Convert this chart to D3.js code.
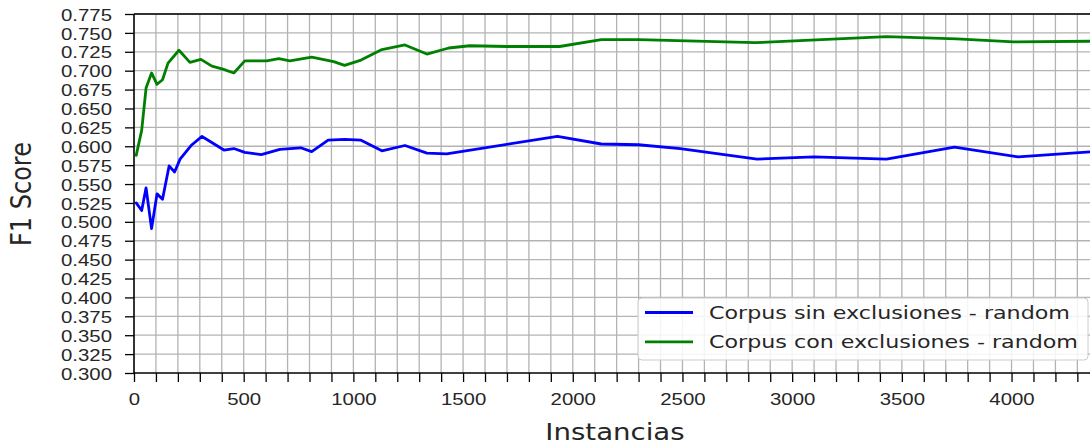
<!DOCTYPE html>
<html>
<head>
<meta charset="utf-8">
<script src="https://cdn.jsdelivr.net/npm/d3@7"></script>
<style>
  html, body { margin: 0; padding: 0; background: #fff; }
  svg { display: block; font-family: "DejaVu Sans", sans-serif; }
</style>
</head>
<body>
<svg id="chart" width="1090" height="444"></svg>
<script>
// F1 score versus number of training instances, two corpus variants
const seriesNames = ["Corpus sin exclusiones - random", "Corpus con exclusiones - random"];
const seriesColors = ["#0000ff", "#008000"];

const sinX = [10, 35, 55, 80, 105, 130, 160, 185, 210, 260, 310, 410, 455, 505, 580, 665, 760, 810, 885, 960,
              1035, 1130, 1235, 1335, 1425, 1930, 2130, 2300, 2490, 2840, 3100, 3430, 3740, 4030, 4380];
const sinY = [0.525, 0.515, 0.545, 0.491, 0.537, 0.530, 0.574, 0.566, 0.583, 0.601, 0.613, 0.595, 0.597, 0.592, 0.589, 0.596, 0.598, 0.593, 0.608, 0.609,
              0.608, 0.594, 0.601, 0.591, 0.590, 0.613, 0.603, 0.602, 0.597, 0.583, 0.586, 0.583, 0.599, 0.586, 0.593];

const conX = [10, 35, 55, 80, 105, 130, 155, 205, 255, 305, 355, 405, 455, 505, 605, 660, 710, 810, 910, 960,
              1035, 1130, 1235, 1335, 1435, 1530, 1700, 1940, 2130, 2300, 2830, 3430, 3750, 4010, 4380];
const conY = [0.588, 0.621, 0.677, 0.697, 0.682, 0.688, 0.710, 0.727, 0.711, 0.715, 0.706, 0.702, 0.697, 0.713, 0.713, 0.716, 0.713, 0.718, 0.712, 0.707,
              0.714, 0.728, 0.734, 0.722, 0.730, 0.733, 0.732, 0.732, 0.741, 0.741, 0.737, 0.745, 0.742, 0.738, 0.739];

const xTickLabels = [0, 500, 1000, 1500, 2000, 2500, 3000, 3500, 4000];
const yTicks = d3.range(0, 20).map(i => +(0.300 + i * 0.025).toFixed(3));

const xLabel = "Instancias";
const yLabel = "F1 Score";

// layout
const plotL = 134, plotT = 14, plotR = 1096, plotB = 373;
const stretch = 1.2;           // horizontal glyph stretch of all text
const ink = "#262626";

const svg = d3.select("#chart");

const x = d3.scaleLinear().domain([0, 4385]).range([plotL, plotR]);
const y = d3.scaleLinear().domain([0.300, 0.775]).range([plotB, plotT]);

svg.append("defs").append("clipPath").attr("id", "plotClip")
  .append("rect").attr("x", plotL).attr("y", plotT).attr("width", plotR - plotL).attr("height", plotB - plotT);

// grid
const xMinor = d3.range(0, 4400, 100);
const grid = svg.append("g").attr("stroke", "#b3b3b3").attr("stroke-width", 1.3);
grid.selectAll("line.v").data(xMinor.filter(d => d > 0)).join("line").attr("class", "v")
  .attr("x1", d => x(d)).attr("x2", d => x(d)).attr("y1", plotT).attr("y2", plotB);
grid.selectAll("line.h").data(yTicks.filter(d => d > 0.3)).join("line").attr("class", "h")
  .attr("x1", plotL).attr("x2", plotR).attr("y1", d => y(d)).attr("y2", d => y(d));

// series lines
const line = d3.line().x(d => x(d[0])).y(d => y(d[1]));
const series = [d3.zip(sinX, sinY), d3.zip(conX, conY)];
const plot = svg.append("g").attr("clip-path", "url(#plotClip)");
series.forEach((pts, i) => {
  plot.append("path").datum(pts)
    .attr("d", line).attr("fill", "none")
    .attr("stroke", seriesColors[i]).attr("stroke-width", 2.8)
    .attr("stroke-linejoin", "round").attr("stroke-linecap", "round");
});

// axes
const xAxis = d3.axisBottom(x).tickValues(xMinor).tickSize(9)
  .tickFormat(d => xTickLabels.includes(d) ? String(d) : "");
const gx = svg.append("g").attr("transform", `translate(0,${plotB})`).call(xAxis);
gx.select(".domain").remove();
gx.selectAll(".tick line").attr("stroke", "#000").attr("stroke-width", 1.3);
gx.selectAll(".tick text")
  .attr("y", 32).attr("dy", 0)
  .attr("fill", ink).style("font-size", "17px")
  .attr("transform", `scale(${stretch},1)`);

const yAxis = d3.axisLeft(y).tickValues(yTicks).tickSize(9).tickFormat(d3.format(".3f"));
const gy = svg.append("g").attr("transform", `translate(${plotL},0)`).call(yAxis);
gy.select(".domain").remove();
gy.selectAll(".tick line").attr("stroke", "#000").attr("stroke-width", 1.3);
gy.selectAll(".tick text")
  .attr("x", -22 / stretch).attr("dy", "0.36em")
  .attr("fill", ink).style("font-size", "17px")
  .attr("transform", `scale(${stretch},1)`);

// spines
const spines = svg.append("g").attr("stroke", "#000").attr("stroke-width", 1.6);
spines.append("line").attr("x1", plotL).attr("x2", plotL).attr("y1", plotT).attr("y2", plotB);
spines.append("line").attr("x1", plotL).attr("x2", plotR).attr("y1", plotB).attr("y2", plotB);
spines.append("line").attr("x1", plotL).attr("x2", plotR).attr("y1", plotT).attr("y2", plotT);
spines.append("line").attr("x1", plotR).attr("x2", plotR).attr("y1", plotT).attr("y2", plotB);

// axis titles
svg.append("text")
  .attr("transform", `translate(615,440) scale(${stretch},1)`)
  .attr("text-anchor", "middle").attr("fill", ink).style("font-size", "23px")
  .text(xLabel);
svg.append("text")
  .attr("transform", `translate(31,194) scale(${stretch},1) rotate(-90)`)
  .attr("text-anchor", "middle").attr("fill", ink).style("font-size", "24px")
  .text(yLabel);

// legend
const lg = svg.append("g");
lg.append("rect")
  .attr("x", 638).attr("y", 298).attr("width", 450).attr("height", 62).attr("rx", 4)
  .attr("fill", "#fff").attr("fill-opacity", 0.85)
  .attr("stroke", "#cccccc").attr("stroke-width", 1);
seriesNames.forEach((name, i) => {
  const cy = 312.5 + i * 29.3;
  lg.append("line").attr("x1", 645).attr("x2", 693).attr("y1", cy).attr("y2", cy)
    .attr("stroke", seriesColors[i]).attr("stroke-width", 2.8);
  lg.append("text")
    .attr("transform", `translate(709,${cy}) scale(${stretch},1)`)
    .attr("dy", "0.36em").attr("fill", ink).style("font-size", "18.5px")
    .text(name);
});
</script>
</body>
</html>
